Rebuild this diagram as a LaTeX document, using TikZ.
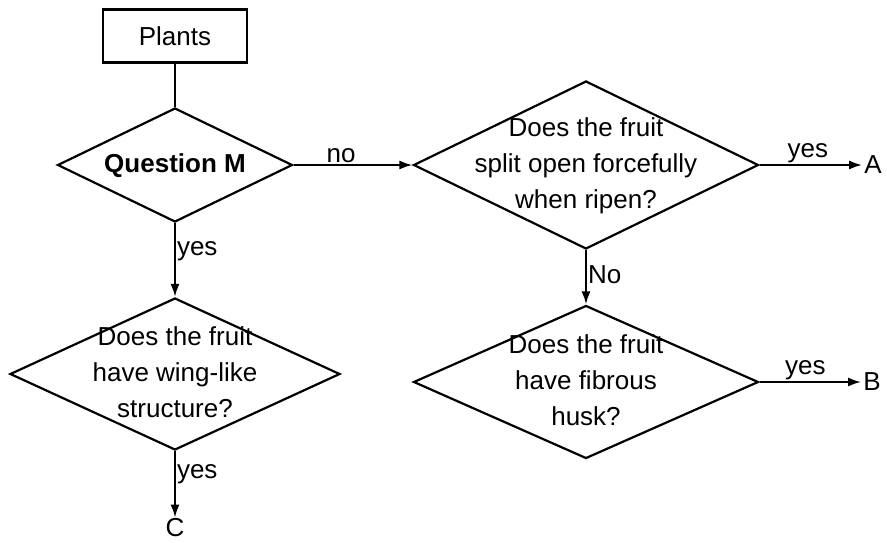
\documentclass[tikz,border=0pt]{standalone}
\usepackage{fontspec}
\setmainfont{Liberation Sans}
\usetikzlibrary{positioning, arrows.meta, shapes.geometric}
% text set over a diamond without changing its size
\newcommand{\qtext}[1]{\raisebox{-0.25em}[0pt][0pt]{\makebox[0pt]{\begin{tabular}{@{}c@{}}#1\end{tabular}}}}

\begin{document}
\begin{tikzpicture}[
  x=1pt, y=-1pt,
  every node/.style={font=\fontsize{26}{36}\selectfont},
  box/.style={rectangle, draw, line width=2.2pt, minimum width=144pt,
              minimum height=53pt, inner sep=0pt},
  question/.style={diamond, draw, line width=2.2pt, inner sep=0pt},
  answer/.style={inner sep=1pt},
  arrow/.style={-{Latex[length=13pt, width=9pt]}, line width=2pt},
]
\useasboundingbox (0,0) rectangle (887,542);

% Left column
\node[box] at (175, 36) (plants) {Plants};
\node[question, minimum width=235pt, minimum height=114pt] at (175, 165) (qm)
  {\qtext{\bfseries Question M}};
\node[question, minimum width=330pt, minimum height=152pt] at (175, 374) (wing)
  {\qtext{Does the fruit\\have wing-like\\structure?}};
\node[inner sep=1pt] at (175, 528) (c) {C};

% Right column
\node[question, minimum width=345pt, minimum height=168pt] at (586, 165) (split)
  {\qtext{Does the fruit\\split open forcefully\\when ripen?}};
\node[question, minimum width=345pt, minimum height=153pt] at (586, 382) (husk)
  {\qtext{Does the fruit\\have fibrous\\husk?}};
\node[inner sep=2pt] at (873, 165) (a) {A};
\node[inner sep=2pt] at (872, 382) (b) {B};

% Connectors
\draw[line width=2.2pt] (plants) -- (qm);
\draw[arrow] (qm.east) -- node[answer, above, pos=0.4] {no} (split.west);
\draw[arrow] (qm.south) -- node[answer, right, pos=0.38] {yes} (wing.north);
\draw[arrow] (wing.south) -- node[answer, right, pos=0.35] {yes} (wing.south |- c.north);
\draw[arrow] (split.east) -- node[answer, above, pos=0.47] {yes} (split.east -| a.west);
\draw[arrow] (split.south) -- node[answer, right, pos=0.45] {No} (husk.north);
\draw[arrow] (husk.east) -- node[answer, above, pos=0.45] {yes} (husk.east -| b.west);
\end{tikzpicture}
\end{document}
